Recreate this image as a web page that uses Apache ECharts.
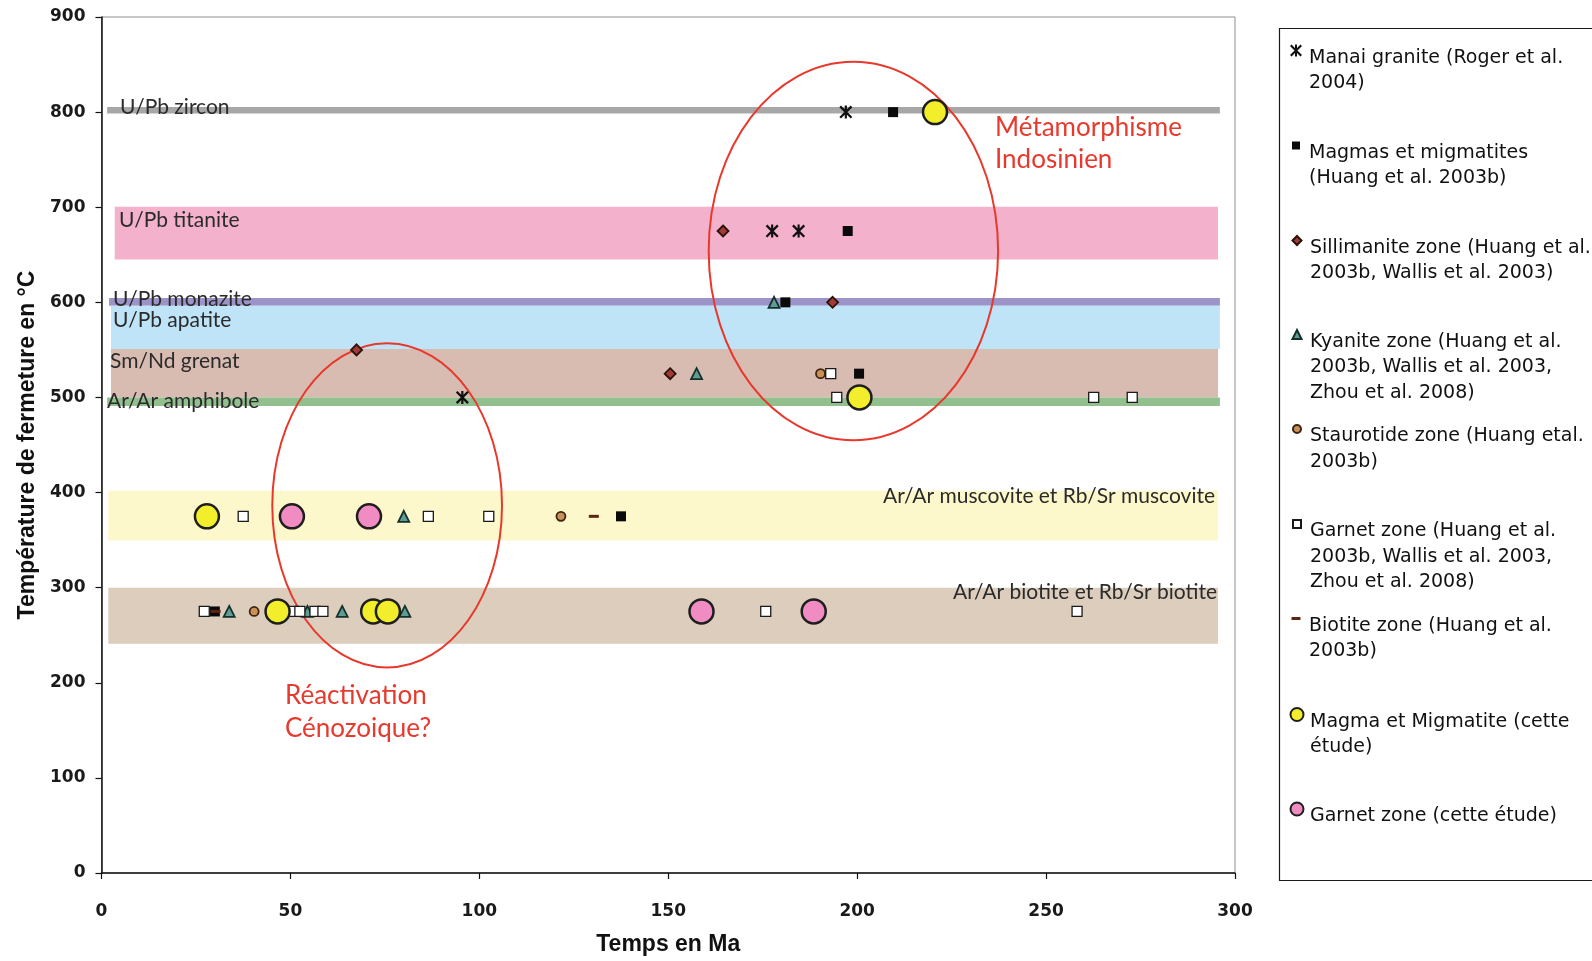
<!DOCTYPE html>
<html>
<head>
<meta charset="utf-8">
<script src="https://cdn.jsdelivr.net/npm/echarts@6/dist/echarts.min.js"></script>
<style>
html,body{margin:0;padding:0;background:#fff;}
#chart{width:1592px;height:961px;}
</style>
</head>
<body>
<div id="chart"></div>
<script>
// ---------- DATA ----------
const bandNames = ['U/Pb zircon','U/Pb titanite','U/Pb monazite','U/Pb apatite','Sm/Nd grenat','Ar/Ar amphibole','Ar/Ar muscovite et Rb/Sr muscovite','Ar/Ar biotite et Rb/Sr biotite'];
const bandAgeStart = [1.5, 3.5, 2, 2.5, 2.5, 1.5, 1.8, 1.8];
const bandAgeEnd   = [296, 295.5, 296, 296, 295.5, 296, 295.5, 295.5];
const bandTempLow  = [798.5, 645, 596.5, 551, 500, 491, 349.5, 241];
const bandTempHigh = [805.5, 700.5, 604.5, 596.5, 551, 500, 402, 300];

const ellipseAge      = [199, 75.6];
const ellipseTemp     = [654, 386.5];
const ellipseHalfAge  = [38.3, 30.4];
const ellipseHalfTemp = [199, 170.4];

const legendLines = [
  ['Manai granite (Roger et al.', '2004)'],
  ['Magmas et migmatites', '(Huang et al. 2003b)'],
  ['Sillimanite zone (Huang et al.', '2003b, Wallis et al. 2003)'],
  ['Kyanite zone (Huang et al.', '2003b, Wallis et al. 2003,', 'Zhou et al. 2008)'],
  ['Staurotide zone (Huang etal.', '2003b)'],
  ['Garnet zone (Huang et al.', '2003b, Wallis et al. 2003,', 'Zhou et al. 2008)'],
  ['Biotite zone (Huang et al.', '2003b)'],
  ['Magma et Migmatite (cette', 'étude)'],
  ['Garnet zone (cette étude)']
];

const manai = [[197,800],[177.5,675],[184.5,675],[95.5,500]];
const magmasHuang = [[209.5,800],[197.5,675],[181,600],[200.5,525],[137.5,375],[30,275]];
const sillimanite = [[164.5,675],[193.5,600],[150.5,525],[67.5,550]];
const kyanite = [[178,600],[157.5,525],[80,375],[33.8,275],[54.5,275],[63.7,275],[80.3,275]];
const staurotide = [[190.3,525],[121.6,375],[40.4,275]];
const garnetHuang = [[193,525],[194.6,500],[262.6,500],[272.8,500],[37.5,375],[86.5,375],[102.5,375],[27.2,275],[50.7,275],[52.5,275],[56.5,275],[58.6,275],[175.8,275],[258.2,275]];
const biotite = [[130.3,375],[30.2,275]];
const magmaEtude = [[220.6,800],[200.6,500],[27.9,375],[46.6,275],[71.9,275],[75.8,275]];
const garnetEtude = [[50.4,375],[70.8,375],[158.8,275],[188.5,275]];

const xMin = 0, xMax = 300, xStep = 50;
const yMin = 0, yMax = 900, yStep = 100;

// ---------- STYLES ----------
const bandColors = ['#a7a7a7','#f3b1cc','#9c94c8','#bfe4f8','#d8bbb1','#92bf8e','#fdf8cb','#dccdbd'];
const starPath = 'path://M0,1.5L1.5,0L12,10.5L10.5,12ZM10.5,0L12,1.5L1.5,12L0,10.5ZM5,0L7,0L7,12L5,12Z';

const names = legendLines.map(l => l.join(' '));
const seriesDefs = [
  {data: manai, symbol: starPath, size: 13, style: {color: '#111'}, icon: [12, 12]},
  {data: magmasHuang, symbol: 'rect', size: 10, style: {color: '#0a0a0a'}, icon: [8, 8]},
  {data: sillimanite, symbol: 'diamond', size: 11, style: {color: '#a23a36', borderColor: '#2a1208', borderWidth: 1.8}, icon: [9, 9]},
  {data: kyanite, symbol: 'triangle', size: 11, style: {color: '#5f9d92', borderColor: '#14302c', borderWidth: 1.8}, icon: [9, 9]},
  {data: staurotide, symbol: 'circle', size: 9, style: {color: '#c99158', borderColor: '#3d2410', borderWidth: 1.8}, icon: [8, 8]},
  {data: garnetHuang, symbol: 'rect', size: 10, style: {color: '#ffffff', borderColor: '#1a1a1a', borderWidth: 1.3}, icon: [8, 8]},
  {data: biotite, symbol: 'rect', size: [10, 3], style: {color: '#5c2412'}, icon: [9, 3]},
  {data: magmaEtude, symbol: 'circle', size: 24, style: {color: '#f2ee2c', borderColor: '#1e1e1e', borderWidth: 2.5}, icon: [13, 13]},
  {data: garnetEtude, symbol: 'circle', size: 24, style: {color: '#f08cc2', borderColor: '#1e1e1e', borderWidth: 2.5}, icon: [13, 13]}
];

const legendIconY = [50, 145, 240, 334, 428.5, 523.5, 618, 714, 808.5];
const lineH = 25.5;
const legendFont = 19;

const legends = legendLines.map((lines, i) => {
  const n = lines.length;
  const [w, h] = seriesDefs[i].icon;
  const padH = 15 + lineH * (n - 1);
  const boxH = Math.max(h, padH + lineH * n);
  return {
    orient: 'vertical',
    left: 1296 - w / 2,
    top: legendIconY[i] - boxH / 2 + padH / 2 - 1.5,
    padding: 0,
    itemWidth: w,
    itemHeight: h,
    selectedMode: false,
    data: [names[i]],
    formatter: () => '{p| }\n' + lines.map(l => '{t|' + l + '}').join('\n'),
    textStyle: {
      fontFamily: 'DejaVu Sans',
      fontSize: legendFont,
      color: '#111111',
      padding: [0, 0, 0, Math.max(0, 8 - w / 2)],
      rich: {
        p: {lineHeight: padH, fontSize: 4, fontFamily: 'DejaVu Sans'},
        t: {lineHeight: lineH, fontSize: legendFont, fontFamily: 'DejaVu Sans', color: '#111111'}
      }
    }
  };
});

const bandLabels = [
  {t: bandNames[0], x: 120, y: 107, a: 'left'},
  {t: bandNames[1], x: 119, y: 220, a: 'left'},
  {t: bandNames[2], x: 113, y: 299, a: 'left'},
  {t: bandNames[3], x: 113, y: 320, a: 'left'},
  {t: bandNames[4], x: 110, y: 361, a: 'left'},
  {t: bandNames[5], x: 107, y: 401, a: 'left'},
  {t: bandNames[6], x: 1215, y: 496, a: 'right'},
  {t: bandNames[7], x: 1217, y: 592, a: 'right'}
];
const redNotes = [
  {t: 'Métamorphisme', x: 995, y: 128},
  {t: 'Indosinien', x: 995, y: 160},
  {t: 'Réactivation', x: 285, y: 696},
  {t: 'Cénozoique?', x: 285, y: 729}
];

const graphics = [
  {type: 'rect', shape: {x: 1279.5, y: 28.5, width: 330, height: 852}, style: {fill: 'none', stroke: '#1a1a1a', lineWidth: 1.2}, z: 0, silent: true}
];
bandLabels.forEach(l => graphics.push({
  type: 'text', x: l.x, y: l.y, z: 2, silent: true,
  style: {text: l.t, fontFamily: 'Lato', fontSize: 21, fill: '#2b2b2b', align: l.a, verticalAlign: 'middle', textAlign: l.a, textVerticalAlign: 'middle'}
}));
redNotes.forEach(l => graphics.push({
  type: 'text', x: l.x, y: l.y, z: 2, silent: true,
  style: {text: l.t, fontFamily: 'Lato', fontSize: 26, fill: '#e63a2e', align: 'left', verticalAlign: 'middle', textAlign: 'left', textVerticalAlign: 'middle'}
}));

const bandData = bandNames.map((n, i) => [bandAgeStart[i], bandAgeEnd[i], bandTempLow[i], bandTempHigh[i]]);
const ellipseData = ellipseAge.map((a, i) => [a, ellipseTemp[i], ellipseHalfAge[i], ellipseHalfTemp[i]]);

const series = [
  {
    type: 'custom', name: 'bands', silent: true, z: 1,
    data: bandData,
    encode: {x: [0, 1], y: [2, 3]},
    renderItem: (params, api) => {
      const p0 = api.coord([api.value(0), api.value(3)]);
      const p1 = api.coord([api.value(1), api.value(2)]);
      return {type: 'rect', shape: {x: p0[0], y: p0[1], width: p1[0] - p0[0], height: p1[1] - p0[1]},
              style: {fill: bandColors[params.dataIndex]}};
    }
  },
  {
    type: 'custom', name: 'ellipses', silent: true, z: 3,
    data: ellipseData,
    encode: {x: 0, y: 1},
    renderItem: (params, api) => {
      const c = api.coord([api.value(0), api.value(1)]);
      const s = api.size([api.value(2), api.value(3)]);
      return {type: 'ellipse', shape: {cx: c[0], cy: c[1], rx: s[0], ry: s[1]},
              style: {fill: 'none', stroke: '#e8382c', lineWidth: 2}};
    }
  }
];
seriesDefs.forEach((d, i) => series.push({
  type: 'scatter', name: names[i], data: d.data, symbol: d.symbol, symbolSize: d.size,
  itemStyle: Object.assign({opacity: 1}, d.style), z: 4 + i * 0.01, silent: true
}));

const chart = echarts.init(document.getElementById('chart'), null, {renderer: 'canvas'});
chart.setOption({
  backgroundColor: '#ffffff',
  animation: false,
  grid: {left: 101.5, right: 357, top: 17, bottom: 82, show: true, borderColor: '#8f8f8f', borderWidth: 1, backgroundColor: '#ffffff'},
  xAxis: {
    type: 'value', min: xMin, max: xMax, interval: xStep,
    name: 'Temps en Ma', nameLocation: 'middle', nameGap: 60,
    nameTextStyle: {fontFamily: 'Liberation Sans', fontWeight: 'bold', fontSize: 23, color: '#111'},
    axisLine: {lineStyle: {color: '#111', width: 1.5}},
    axisTick: {inside: false, length: 6, lineStyle: {color: '#111', width: 1.2}},
    axisLabel: {margin: 30, fontFamily: 'DejaVu Sans', fontWeight: 'bold', fontSize: 17, color: '#1a1a1a'},
    splitLine: {show: false}
  },
  yAxis: {
    type: 'value', min: yMin, max: yMax, interval: yStep,
    name: 'Température de fermeture en °C', nameLocation: 'middle', nameGap: 59, nameRotate: 90,
    nameTextStyle: {fontFamily: 'Liberation Sans', fontWeight: 'bold', fontSize: 23, color: '#111'},
    axisLine: {show: true, lineStyle: {color: '#111', width: 1.5}},
    axisTick: {show: true, inside: false, length: 6, lineStyle: {color: '#111', width: 1.2}},
    axisLabel: {margin: 16, fontFamily: 'DejaVu Sans', fontWeight: 'bold', fontSize: 17, color: '#1a1a1a'},
    splitLine: {show: false}
  },
  legend: legends,
  graphic: graphics,
  series: series
});
</script>
</body>
</html>
